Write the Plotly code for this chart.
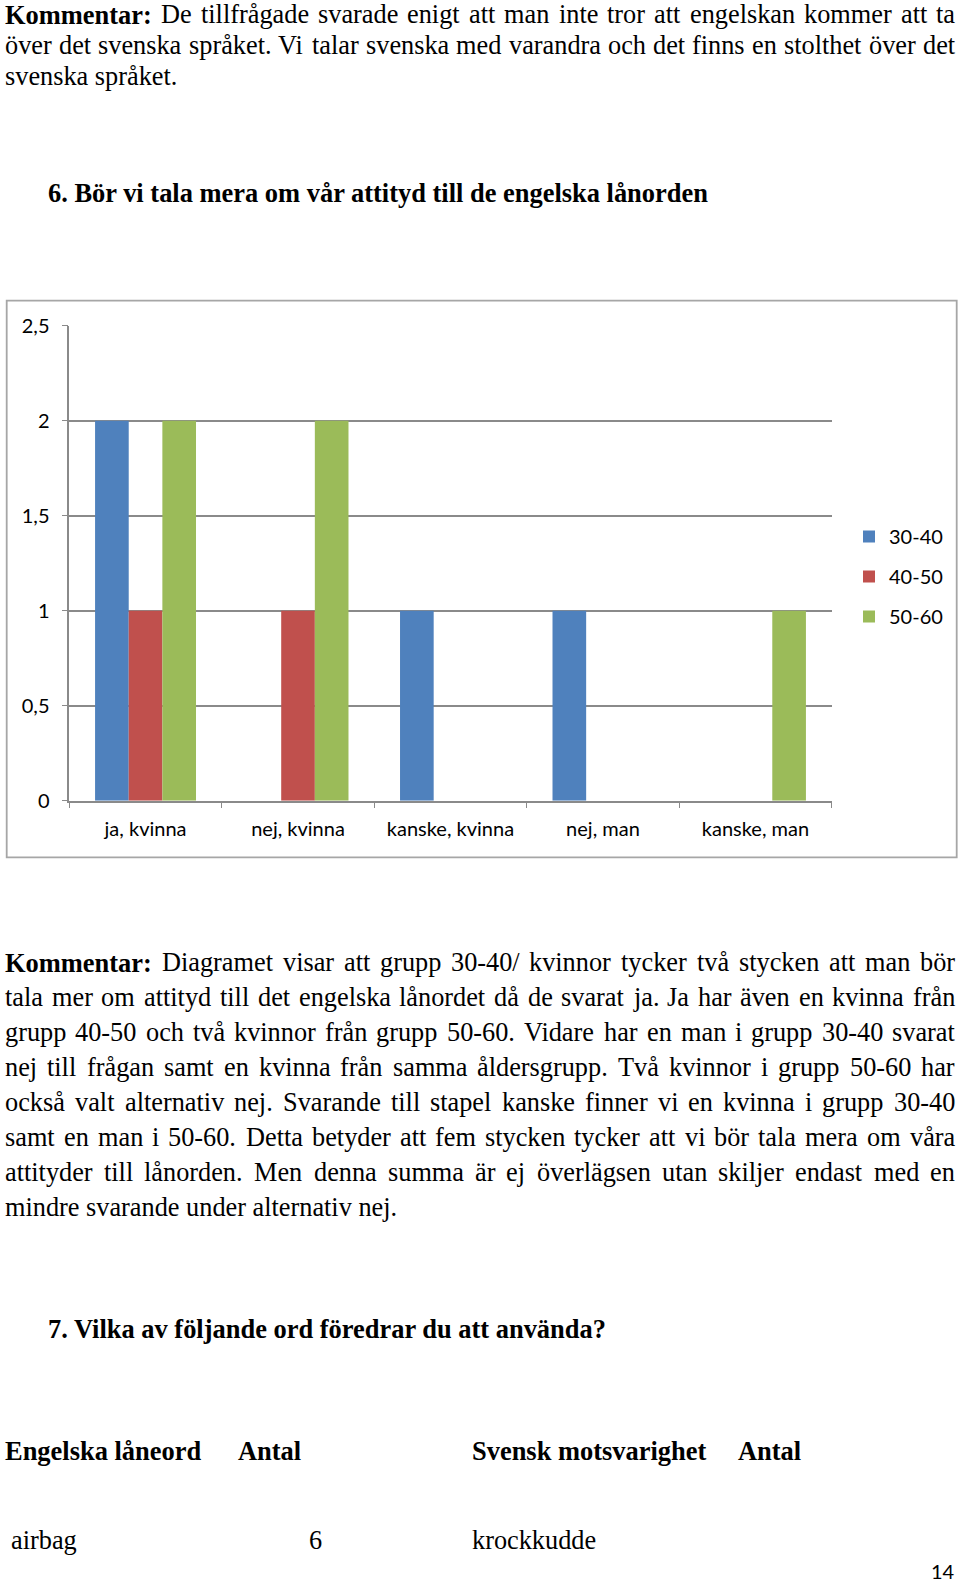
import plotly.graph_objects as go

# ---------------- data ----------------
categories = ["ja, kvinna", "nej, kvinna", "kanske, kvinna", "nej, man", "kanske, man"]
series_names = ["30-40", "40-50", "50-60"]
values_30_40 = [2, 0, 1, 1, 0]
values_40_50 = [1, 1, 0, 0, 0]
values_50_60 = [2, 2, 0, 0, 1]
y_tick_vals = [0, 0.5, 1, 1.5, 2, 2.5]
y_tick_text = ["0", "0,5", "1", "1,5", "2", "2,5"]

W, H = 960, 1582
colors = ["#4F81BD", "#C0504D", "#9BBB59"]

fig = go.Figure()
for name, vals, col in zip(series_names, [values_30_40, values_40_50, values_50_60], colors):
    fig.add_trace(go.Bar(x=categories, y=vals, name=name, legendgroup=name,
                         marker=dict(color=col, line=dict(width=0))))

def py(p):
    return 1 - p / H

def px(p):
    return p / W

CHART_FONT = "Lato"
GRAY = "#8a8a8a"

fig.update_layout(
    width=W, height=H, margin=dict(l=0, r=0, t=0, b=0, pad=0, autoexpand=False),
    paper_bgcolor="white", plot_bgcolor="white",
    barmode="group", bargap=0.338, bargroupgap=0,
    showlegend=True,
    legend=dict(x=px(849), xanchor="left", y=py(517), yanchor="top",
                font=dict(family=CHART_FONT, size=20, color="#000"),
                tracegroupgap=11, bgcolor="rgba(0,0,0,0)", borderwidth=0,
                itemclick=False),
    xaxis=dict(domain=[px(69.3), px(831.7)], showline=True, linecolor=GRAY, linewidth=1.6,
               ticks="outside", tickson="boundaries", ticklen=5, tickcolor=GRAY, tickwidth=1.3,
               ticklabelstandoff=9,
               showgrid=False, tickfont=dict(family=CHART_FONT, size=20, color="#000"),
               fixedrange=True),
    yaxis=dict(domain=[py(800.7), py(325.7)], range=[0, 2.5], showline=True, linecolor=GRAY,
               linewidth=1.6, ticks="outside", ticklen=6, tickcolor=GRAY, tickwidth=1.3,
               ticklabelstandoff=8,
               tickvals=y_tick_vals, ticktext=y_tick_text, showgrid=True, gridcolor=GRAY,
               gridwidth=1.6, zeroline=False,
               tickfont=dict(family=CHART_FONT, size=20, color="#000"), fixedrange=True),
)

# chart border
fig.add_shape(type="rect", xref="paper", yref="paper", x0=px(6.7), x1=px(956.7),
              y0=py(857.3), y1=py(300.7), line=dict(color="#a6a6a6", width=1.8))

# ---------------- page text ----------------
REG = {' ': 250, 'a': 444, 'b': 500, 'c': 444, 'd': 500, 'e': 444, 'f': 333, 'g': 500, 'h': 500,
       'i': 278, 'j': 278, 'k': 500, 'l': 278, 'm': 778, 'n': 500, 'o': 500, 'p': 500, 'q': 500,
       'r': 333, 's': 389, 't': 278, 'u': 500, 'v': 500, 'w': 722, 'x': 500, 'y': 500, 'z': 444,
       'å': 444, 'ä': 444, 'ö': 500, '.': 250, ',': 250, '/': 278, '-': 333, ':': 278, '?': 444,
       'A': 722, 'D': 722, 'J': 389, 'K': 722, 'M': 889, 'S': 556, 'T': 611, 'V': 722, 'E': 611}
BOLD = {' ': 250, 'a': 500, 'b': 556, 'c': 444, 'd': 556, 'e': 444, 'f': 333, 'g': 500, 'h': 556,
        'i': 278, 'j': 333, 'k': 556, 'l': 278, 'm': 833, 'n': 556, 'o': 500, 'p': 556, 'r': 444,
        's': 389, 't': 333, 'u': 556, 'v': 500, 'y': 500, 'å': 500, 'ä': 500, 'ö': 500, '.': 250,
        ':': 333, '?': 500, 'B': 667, 'K': 778, 'V': 722, 'E': 667, 'A': 722, 'S': 556}

FS = 26.3
FSB = 26.45
SERIF = "Liberation Serif"
LEFT, RIGHT = 5, 955


def tw(text, bold=False):
    t = BOLD if bold else REG
    return sum(t.get(c, 500) for c in text) * (FSB if bold else FS) / 1000.0


def put(text, x, baseline, bold=False, anchor="left", size=None, family=SERIF, at_top=False):
    if size is None:
        size = FSB if bold else FS
    if at_top:
        yy, ya = 1.0, "top"
    else:
        yy, ya = py(baseline - 0.34 * size), "middle"
    fig.add_annotation(text=("<b>%s</b>" % text) if bold else text, x=px(x), y=yy,
                       xref="paper", yref="paper", xanchor=anchor, yanchor=ya,
                       showarrow=False, borderpad=0, borderwidth=0,
                       font=dict(family=family, size=size, color="#000"))


def justified(line, baseline, bold_first=0, at_top=False):
    words = line.split(" ")
    flags = [i < bold_first for i in range(len(words))]
    widths = [tw(w, b) for w, b in zip(words, flags)]
    gap = (RIGHT - LEFT - sum(widths)) / (len(words) - 1)
    x = LEFT
    for w, b, wd in zip(words, flags, widths):
        put(w, x, baseline, bold=b, at_top=at_top)
        x += wd + gap


para1 = ["Kommentar: De tillfrågade svarade enigt att man inte tror att engelskan kommer att ta",
         "över det svenska språket. Vi talar svenska med varandra och det finns en stolthet över det",
         "svenska språket."]
para1_base = [24.0, 54.5, 85.0]
justified(para1[0], para1_base[0], bold_first=1, at_top=True)
justified(para1[1], para1_base[1])
put(para1[2], LEFT, para1_base[2])

put("6. Bör vi tala mera om vår attityd till de engelska lånorden", 47.8, 201.7, bold=True)

para2 = ["Kommentar: Diagramet visar att grupp 30-40/ kvinnor tycker två stycken att man bör",
         "tala mer om attityd till det engelska lånordet då de svarat ja. Ja har även en kvinna från",
         "grupp 40-50 och två kvinnor från grupp 50-60. Vidare har en man i grupp 30-40 svarat",
         "nej till frågan samt en kvinna från samma åldersgrupp. Två kvinnor i grupp 50-60 har",
         "också valt alternativ nej. Svarande till stapel kanske finner vi en kvinna i grupp 30-40",
         "samt en man i 50-60. Detta betyder att fem stycken tycker att vi bör tala mera om våra",
         "attityder till lånorden. Men denna summa är ej överlägsen utan skiljer endast med en",
         "mindre svarande under alternativ nej."]
for i, line in enumerate(para2):
    b = 971.7 + 35.0 * i
    if i < len(para2) - 1:
        justified(line, b, bold_first=1 if i == 0 else 0)
    else:
        put(line, LEFT, b)

put("7. Vilka av följande ord föredrar du att använda?", 47.8, 1338.3, bold=True)

put("Engelska låneord", LEFT, 1460, bold=True)
put("Antal", 237.6, 1460, bold=True)
put("Svensk motsvarighet", 471.5, 1460, bold=True)
put("Antal", 738, 1460, bold=True)

put("airbag", 11, 1549)
put("6", 309, 1549)
put("krockkudde", 471.5, 1549)

put("14", 955, 1578, anchor="right", size=20, family=CHART_FONT)

fig.write_html("out.html")
